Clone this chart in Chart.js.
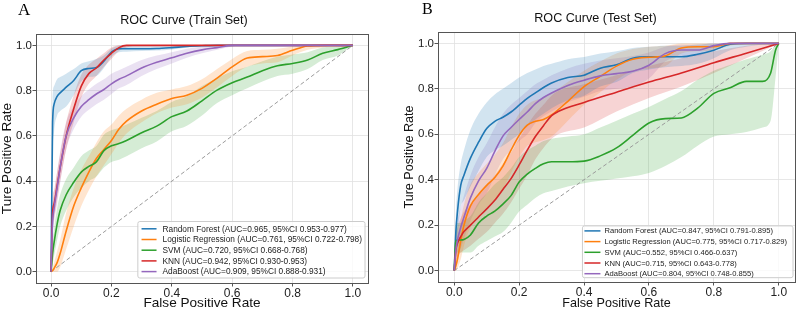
<!DOCTYPE html>
<html>
<head>
<meta charset="utf-8">
<script src="https://cdn.jsdelivr.net/npm/chart.js@4.4.1/dist/chart.umd.min.js"></script>
<style>
html,body{margin:0;padding:0;background:#fff;width:796px;height:310px;overflow:hidden;position:relative}
#wa{position:absolute;left:0;top:0;width:398px;height:310px}
#wb{position:absolute;left:396px;top:0;width:461px;height:310px}
.lab{position:absolute;font-family:"Liberation Serif","Times New Roman",serif;line-height:1;color:#000}
</style>
</head>
<body>
<div id="wb"><canvas id="cb" width="461" height="310"></canvas></div>
<div id="wa"><canvas id="ca" width="398" height="310"></canvas></div>
<div class="lab" style="left:18px;top:1px;font-size:17px">A</div>
<div class="lab" style="left:422px;top:1px;font-size:16px">B</div>
<script>
// ---------- labels ----------
const modelNames = ['Random Forest', 'Logistic Regression', 'SVM', 'KNN', 'AdaBoost'];
const modelColors = ['#1f77b4', '#ff7f0e', '#2ca02c', '#d62728', '#9467bd'];
const bandColors = ['rgba(31,119,180,0.2)', 'rgba(255,127,14,0.2)', 'rgba(44,160,44,0.2)', 'rgba(214,39,40,0.2)', 'rgba(148,103,189,0.2)'];
const legendTrain = [
  'Random Forest (AUC=0.965, 95%CI 0.953-0.977)',
  'Logistic Regression (AUC=0.761, 95%CI 0.722-0.798)',
  'SVM (AUC=0.720, 95%CI 0.668-0.768)',
  'KNN (AUC=0.942, 95%CI 0.930-0.953)',
  'AdaBoost (AUC=0.909, 95%CI 0.888-0.931)'
];
const legendTest = [
  'Random Forest (AUC=0.847, 95%CI 0.791-0.895)',
  'Logistic Regression (AUC=0.775, 95%CI 0.717-0.829)',
  'SVM (AUC=0.552, 95%CI 0.466-0.637)',
  'KNN (AUC=0.715, 95%CI 0.643-0.778)',
  'AdaBoost (AUC=0.804, 95%CI 0.748-0.855)'
];
const tickValues = [0, 0.2, 0.4, 0.6, 0.8, 1.0];
const tickLabels = ['0.0', '0.2', '0.4', '0.6', '0.8', '1.0'];
const diagX = [0, 1];
const diagY = [0, 1];

// ---------- Train set (panel A) ----------
const fprTrain = [0, 0.005, 0.01, 0.02, 0.03, 0.05, 0.075, 0.1, 0.125, 0.15, 0.175, 0.2, 0.225, 0.25, 0.3, 0.35, 0.4, 0.45, 0.5, 0.55, 0.6, 0.65, 0.7, 0.75, 0.8, 0.85, 0.9, 0.95, 1];
const rfTrain   = [0, 0.66, 0.74, 0.775, 0.79, 0.815, 0.845, 0.888, 0.898, 0.902, 0.93, 0.97, 0.985, 0.985, 0.985, 0.986, 0.99, 0.995, 0.998, 1, 1, 1, 1, 1, 1, 1, 1, 1, 1];
const rfTrainLo = [0, 0.5, 0.62, 0.69, 0.71, 0.73, 0.78, 0.84, 0.86, 0.865, 0.9, 0.95, 0.97, 0.972, 0.975, 0.977, 0.982, 0.99, 0.995, 1, 1, 1, 1, 1, 1, 1, 1, 1, 1];
const rfTrainHi = [0, 0.76, 0.82, 0.85, 0.86, 0.875, 0.895, 0.92, 0.93, 0.94, 0.955, 0.985, 0.998, 1, 1, 1, 1, 1, 1, 1, 1, 1, 1, 1, 1, 1, 1, 1, 1];
const lrTrain   = [0, 0.005, 0.015, 0.04, 0.08, 0.18, 0.29, 0.37, 0.44, 0.5, 0.54, 0.58, 0.63, 0.665, 0.71, 0.74, 0.765, 0.78, 0.81, 0.855, 0.905, 0.944, 0.95, 0.955, 0.978, 0.997, 1, 1, 1];
const lrTrainLo = [0, 0, 0, 0, 0.02, 0.1, 0.2, 0.29, 0.36, 0.42, 0.47, 0.52, 0.57, 0.61, 0.66, 0.7, 0.725, 0.74, 0.77, 0.815, 0.865, 0.905, 0.92, 0.925, 0.955, 0.98, 0.99, 1, 1];
const lrTrainHi = [0, 0.02, 0.04, 0.09, 0.14, 0.26, 0.37, 0.45, 0.51, 0.57, 0.62, 0.65, 0.69, 0.72, 0.76, 0.79, 0.805, 0.82, 0.85, 0.895, 0.94, 0.975, 0.98, 0.985, 0.995, 1, 1, 1, 1];
const svmTrain   = [0, 0.08, 0.13, 0.21, 0.27, 0.34, 0.395, 0.44, 0.465, 0.485, 0.535, 0.556, 0.566, 0.58, 0.614, 0.643, 0.685, 0.71, 0.755, 0.802, 0.835, 0.86, 0.888, 0.91, 0.92, 0.935, 0.965, 0.981, 1];
const svmTrainLo = [0, 0.03, 0.07, 0.14, 0.2, 0.27, 0.33, 0.37, 0.4, 0.42, 0.46, 0.485, 0.495, 0.51, 0.545, 0.575, 0.62, 0.645, 0.69, 0.745, 0.78, 0.81, 0.84, 0.865, 0.875, 0.895, 0.935, 0.955, 1];
const svmTrainHi = [0, 0.13, 0.19, 0.28, 0.34, 0.41, 0.46, 0.51, 0.535, 0.555, 0.605, 0.625, 0.635, 0.65, 0.68, 0.71, 0.75, 0.775, 0.82, 0.855, 0.885, 0.905, 0.93, 0.95, 0.96, 0.97, 0.99, 0.995, 1];
const knnTrain   = [0, 0.26, 0.3, 0.38, 0.46, 0.6, 0.72, 0.82, 0.875, 0.9, 0.935, 0.965, 0.99, 1, 1, 1, 1, 1, 1, 1, 1, 1, 1, 1, 1, 1, 1, 1, 1];
const knnTrainLo = [0, 0.2, 0.24, 0.32, 0.4, 0.54, 0.66, 0.77, 0.83, 0.865, 0.905, 0.94, 0.975, 0.99, 1, 1, 1, 1, 1, 1, 1, 1, 1, 1, 1, 1, 1, 1, 1];
const knnTrainHi = [0, 0.32, 0.36, 0.44, 0.52, 0.66, 0.78, 0.87, 0.915, 0.94, 0.965, 0.99, 1, 1, 1, 1, 1, 1, 1, 1, 1, 1, 1, 1, 1, 1, 1, 1, 1];
const adaTrain   = [0, 0.22, 0.28, 0.37, 0.46, 0.6, 0.68, 0.73, 0.76, 0.785, 0.805, 0.83, 0.85, 0.865, 0.9, 0.925, 0.945, 0.965, 0.98, 0.99, 1, 1, 1, 1, 1, 1, 1, 1, 1];
const adaTrainLo = [0, 0.16, 0.22, 0.3, 0.39, 0.54, 0.63, 0.685, 0.715, 0.74, 0.76, 0.785, 0.81, 0.825, 0.865, 0.895, 0.92, 0.945, 0.965, 0.98, 0.995, 1, 1, 1, 1, 1, 1, 1, 1];
const adaTrainHi = [0, 0.28, 0.34, 0.44, 0.53, 0.66, 0.73, 0.775, 0.805, 0.83, 0.85, 0.875, 0.89, 0.905, 0.935, 0.955, 0.97, 0.985, 0.995, 1, 1, 1, 1, 1, 1, 1, 1, 1, 1];

// ---------- Test set (panel B) ----------
const fprTest = [0, 0.005, 0.01, 0.02, 0.03, 0.05, 0.075, 0.1, 0.125, 0.15, 0.175, 0.2, 0.225, 0.25, 0.275, 0.3, 0.35, 0.4, 0.45, 0.5, 0.55, 0.6, 0.65, 0.7, 0.75, 0.8, 0.85, 0.9, 0.95, 0.975, 0.99, 1];
const rfTest   = [0, 0.17, 0.26, 0.375, 0.42, 0.495, 0.565, 0.625, 0.657, 0.675, 0.698, 0.728, 0.758, 0.782, 0.806, 0.826, 0.85, 0.86, 0.891, 0.906, 0.935, 0.941, 0.941, 0.941, 0.952, 0.97, 0.996, 1, 1, 1, 1, 1];
const rfTestLo = [0, 0.09, 0.16, 0.28, 0.31, 0.37, 0.44, 0.5, 0.53, 0.55, 0.575, 0.6, 0.635, 0.665, 0.69, 0.715, 0.75, 0.77, 0.81, 0.83, 0.87, 0.885, 0.895, 0.9, 0.91, 0.935, 0.97, 0.985, 0.995, 1, 1, 1];
const rfTestHi = [0, 0.25, 0.36, 0.47, 0.53, 0.62, 0.69, 0.74, 0.775, 0.8, 0.825, 0.85, 0.87, 0.885, 0.9, 0.91, 0.93, 0.94, 0.955, 0.965, 0.98, 0.985, 0.99, 0.99, 0.995, 1, 1, 1, 1, 1, 1, 1];
const lrTest   = [0, 0.02, 0.05, 0.13, 0.2, 0.285, 0.335, 0.375, 0.41, 0.46, 0.53, 0.595, 0.64, 0.657, 0.665, 0.685, 0.745, 0.81, 0.855, 0.9, 0.93, 0.939, 0.945, 0.98, 0.985, 0.985, 1, 1, 1, 1, 1, 1];
const lrTestLo = [0, 0, 0.01, 0.05, 0.11, 0.19, 0.24, 0.28, 0.31, 0.36, 0.43, 0.5, 0.55, 0.565, 0.575, 0.59, 0.66, 0.73, 0.785, 0.84, 0.88, 0.89, 0.9, 0.955, 0.965, 0.97, 0.99, 1, 1, 1, 1, 1];
const lrTestHi = [0, 0.06, 0.11, 0.22, 0.29, 0.38, 0.43, 0.47, 0.51, 0.56, 0.63, 0.69, 0.73, 0.75, 0.76, 0.78, 0.83, 0.88, 0.92, 0.955, 0.975, 0.985, 0.99, 1, 1, 1, 1, 1, 1, 1, 1, 1];
const svmTest   = [0, 0.13, 0.135, 0.135, 0.137, 0.157, 0.21, 0.24, 0.262, 0.293, 0.33, 0.39, 0.425, 0.45, 0.47, 0.479, 0.479, 0.482, 0.505, 0.54, 0.595, 0.65, 0.669, 0.672, 0.715, 0.78, 0.805, 0.833, 0.833, 0.87, 0.97, 1];
const svmTestLo = [0, 0.07, 0.08, 0.08, 0.08, 0.08, 0.11, 0.13, 0.15, 0.17, 0.21, 0.26, 0.29, 0.32, 0.34, 0.35, 0.37, 0.385, 0.395, 0.405, 0.415, 0.43, 0.46, 0.5, 0.55, 0.59, 0.6, 0.61, 0.63, 0.66, 0.85, 1];
const svmTestHi = [0, 0.2, 0.21, 0.21, 0.22, 0.24, 0.3, 0.34, 0.38, 0.41, 0.45, 0.5, 0.53, 0.55, 0.57, 0.58, 0.59, 0.6, 0.63, 0.66, 0.69, 0.72, 0.755, 0.79, 0.84, 0.88, 0.905, 0.93, 0.95, 0.965, 0.995, 1];
const fprKnnTest = [0, 0.005, 0.01, 0.02, 0.03, 0.05, 0.075, 0.1, 0.125, 0.15, 0.175, 0.2, 0.225, 0.25, 0.275, 0.3, 0.32, 0.4, 0.5, 0.6, 0.7, 0.8, 0.9, 1];
const knnTest   = [0, 0.09, 0.12, 0.15, 0.172, 0.2, 0.236, 0.272, 0.31, 0.357, 0.405, 0.465, 0.53, 0.59, 0.638, 0.682, 0.7, 0.74, 0.785, 0.83, 0.87, 0.915, 0.957, 1];
const knnTestLo = [0, 0.04, 0.06, 0.08, 0.09, 0.11, 0.14, 0.17, 0.21, 0.25, 0.3, 0.36, 0.42, 0.49, 0.54, 0.58, 0.6, 0.63, 0.7, 0.76, 0.81, 0.87, 0.935, 1];
const knnTestHi = [0, 0.15, 0.19, 0.23, 0.26, 0.29, 0.33, 0.37, 0.42, 0.47, 0.52, 0.58, 0.64, 0.69, 0.73, 0.77, 0.79, 0.82, 0.86, 0.9, 0.935, 0.965, 0.99, 1];
const adaTest   = [0, 0.09, 0.135, 0.19, 0.235, 0.32, 0.395, 0.45, 0.525, 0.592, 0.63, 0.665, 0.698, 0.735, 0.762, 0.782, 0.815, 0.838, 0.857, 0.867, 0.877, 0.904, 0.955, 0.971, 0.971, 0.99, 1, 1, 1, 1, 1, 1];
const adaTestLo = [0, 0.03, 0.06, 0.1, 0.14, 0.22, 0.29, 0.34, 0.42, 0.49, 0.53, 0.57, 0.6, 0.65, 0.68, 0.7, 0.74, 0.765, 0.79, 0.8, 0.81, 0.845, 0.92, 0.945, 0.945, 0.975, 0.995, 1, 1, 1, 1, 1];
const adaTestHi = [0, 0.16, 0.22, 0.28, 0.33, 0.42, 0.5, 0.56, 0.63, 0.69, 0.73, 0.76, 0.79, 0.82, 0.84, 0.86, 0.89, 0.91, 0.925, 0.935, 0.945, 0.96, 0.985, 0.995, 0.995, 1, 1, 1, 1, 1, 1, 1];

// ---------- helpers ----------
const FONT = '"Liberation Sans", Arial, Helvetica, sans-serif';
Chart.defaults.font.family = FONT;
function pts(xs, ys) { return xs.map((x, i) => ({ x: x, y: ys[i] })); }

const frame = {
  id: 'frame',
  afterDatasetsDraw(chart) {
    const { ctx, chartArea: a } = chart;
    ctx.save();
    ctx.strokeStyle = '#555';
    ctx.lineWidth = 1;
    ctx.strokeRect(Math.round(a.left) + 0.5, Math.round(a.top) + 0.5, Math.round(a.right - a.left), Math.round(a.bottom - a.top));
    ctx.restore();
  }
};

const boxLegend = {
  id: 'boxLegend',
  afterDraw(chart, args, o) {
    const { ctx, chartArea: a } = chart;
    ctx.save();
    ctx.font = o.size + 'px ' + FONT;
    const tw = Math.max(...o.labels.map(t => ctx.measureText(t).width));
    const w = o.padL + o.lineLen + o.gap + tw + o.padR;
    const h = o.padT + (o.labels.length - 1) * o.rowH + o.padB;
    const x0 = a.right - o.offR - w, y0 = a.bottom - o.offB - h;
    ctx.beginPath();
    if (ctx.roundRect) ctx.roundRect(x0, y0, w, h, 2); else ctx.rect(x0, y0, w, h);
    ctx.fillStyle = 'rgba(255,255,255,0.8)';
    ctx.fill();
    ctx.strokeStyle = '#cccccc';
    ctx.lineWidth = 1;
    ctx.stroke();
    ctx.textBaseline = 'middle';
    ctx.textAlign = 'left';
    o.labels.forEach((t, i) => {
      const y = y0 + o.padT + i * o.rowH;
      ctx.beginPath();
      ctx.strokeStyle = o.colors[i];
      ctx.lineWidth = 1.5;
      ctx.moveTo(x0 + o.padL, y);
      ctx.lineTo(x0 + o.padL + o.lineLen, y);
      ctx.stroke();
      ctx.fillStyle = '#222';
      ctx.fillText(t, x0 + o.padL + o.lineLen + o.gap, y + 0.5);
    });
    ctx.restore();
  }
};

function buildChart(id, p) {
  const datasets = [];
  p.models.forEach((m, k) => {
    const loIdx = datasets.length;
    datasets.push({ data: pts(m.fpr, m.lo), borderWidth: 0, pointRadius: 0, fill: false,
      cubicInterpolationMode: 'monotone', order: 100 });
    datasets.push({ data: pts(m.fpr, m.hi), borderWidth: 0, pointRadius: 0, fill: { target: loIdx },
      backgroundColor: bandColors[k], cubicInterpolationMode: 'monotone', order: 100 });
  });
  datasets.push({ label: 'diagonal', data: pts(diagX, diagY), borderColor: '#9a9a9a', borderWidth: 1,
    borderDash: [4, 2.5], pointRadius: 0, fill: false, order: 60 });
  p.models.forEach((m, k) => {
    datasets.push({ label: modelNames[k], data: pts(m.fpr, m.mean), borderColor: modelColors[k],
      borderWidth: 1.6, pointRadius: 0, fill: false, cubicInterpolationMode: 'monotone', order: 20 - k });
  });
  const setTicks = s => { s.ticks = tickValues.map(v => ({ value: v })); };
  return new Chart(document.getElementById(id), {
    type: 'line',
    data: { datasets },
    plugins: [frame, boxLegend],
    options: {
      responsive: false,
      animation: false,
      events: [],
      layout: { padding: { left: 0, right: p.padRight, top: 0, bottom: 0 } },
      scales: {
        x: {
          type: 'linear', min: -0.05, max: 1.05,
          afterBuildTicks: setTicks,
          afterFit: s => { s.height = p.xAxisH; },
          ticks: { callback: (v, i) => tickLabels[i], font: { family: FONT, size: p.xTickSize, lineHeight: 1 },
            color: '#222', padding: 1.5, maxRotation: 0, autoSkip: false },
          grid: { color: '#e1e1e1', lineWidth: 0.8, tickColor: '#555', tickLength: 3.5, tickWidth: 1 },
          border: { display: false },
          title: { display: true, text: 'False Positive Rate', color: '#111',
            font: { family: FONT, size: p.axisTitleSize, lineHeight: 1 }, padding: { top: 0, bottom: 0 } }
        },
        y: {
          type: 'linear', min: -0.05, max: 1.05,
          afterBuildTicks: setTicks,
          afterFit: s => { s.width = p.yAxisW; },
          ticks: { callback: (v, i) => tickLabels[i], font: { family: FONT, size: p.yTickSize, lineHeight: 1 },
            color: '#222', padding: 0.5, autoSkip: false },
          grid: { color: '#e1e1e1', lineWidth: 0.8, tickColor: '#555', tickLength: 3.5, tickWidth: 1 },
          border: { display: false },
          title: { display: true, text: 'Ture Positive Rate', color: '#111',
            font: { family: FONT, size: p.axisTitleSize, lineHeight: 1 }, padding: { top: p.yTitlePad, bottom: 0 } }
        }
      },
      plugins: {
        legend: { display: false },
        tooltip: { enabled: false },
        title: { display: true, text: p.title, color: '#111',
          font: { family: FONT, size: 12.6, weight: 'normal', lineHeight: 1.2 },
          padding: { top: p.titleTop, bottom: p.titleBottom } },
        boxLegend: p.legend
      }
    }
  });
}

buildChart('ca', {
  title: 'ROC Curve (Train Set)',
  padRight: 30, xAxisH: 27, yAxisW: 36, yTitlePad: 0,
  titleTop: 13.4, titleBottom: 5.5,
  xTickSize: 12, yTickSize: 11.5, axisTitleSize: 13.6,
  models: [
    { fpr: fprTrain, mean: rfTrain, lo: rfTrainLo, hi: rfTrainHi },
    { fpr: fprTrain, mean: lrTrain, lo: lrTrainLo, hi: lrTrainHi },
    { fpr: fprTrain, mean: svmTrain, lo: svmTrainLo, hi: svmTrainHi },
    { fpr: fprTrain, mean: knnTrain, lo: knnTrainLo, hi: knnTrainHi },
    { fpr: fprTrain, mean: adaTrain, lo: adaTrainLo, hi: adaTrainHi }
  ],
  legend: { labels: legendTrain, colors: modelColors, size: 8.3, rowH: 10.7,
    padL: 3.7, lineLen: 15, gap: 6, padR: 3, padT: 7.3, padB: 6.4, offR: 3, offB: 5 }
});

buildChart('cb', {
  title: 'ROC Curve (Test Set)',
  padRight: 62, xAxisH: 28, yAxisW: 42, yTitlePad: 7.5,
  titleTop: 10.7, titleBottom: 6.2,
  xTickSize: 12, yTickSize: 11.5, axisTitleSize: 12.6,
  models: [
    { fpr: fprTest, mean: rfTest, lo: rfTestLo, hi: rfTestHi },
    { fpr: fprTest, mean: lrTest, lo: lrTestLo, hi: lrTestHi },
    { fpr: fprTest, mean: svmTest, lo: svmTestLo, hi: svmTestHi },
    { fpr: fprKnnTest, mean: knnTest, lo: knnTestLo, hi: knnTestHi },
    { fpr: fprTest, mean: adaTest, lo: adaTestLo, hi: adaTestHi }
  ],
  legend: { labels: legendTest, colors: modelColors, size: 7.6, rowH: 10.7,
    padL: 2, lineLen: 16, gap: 4, padR: 6, padT: 5, padB: 4, offR: 2, offB: 4.3 }
});
</script>
</body>
</html>
